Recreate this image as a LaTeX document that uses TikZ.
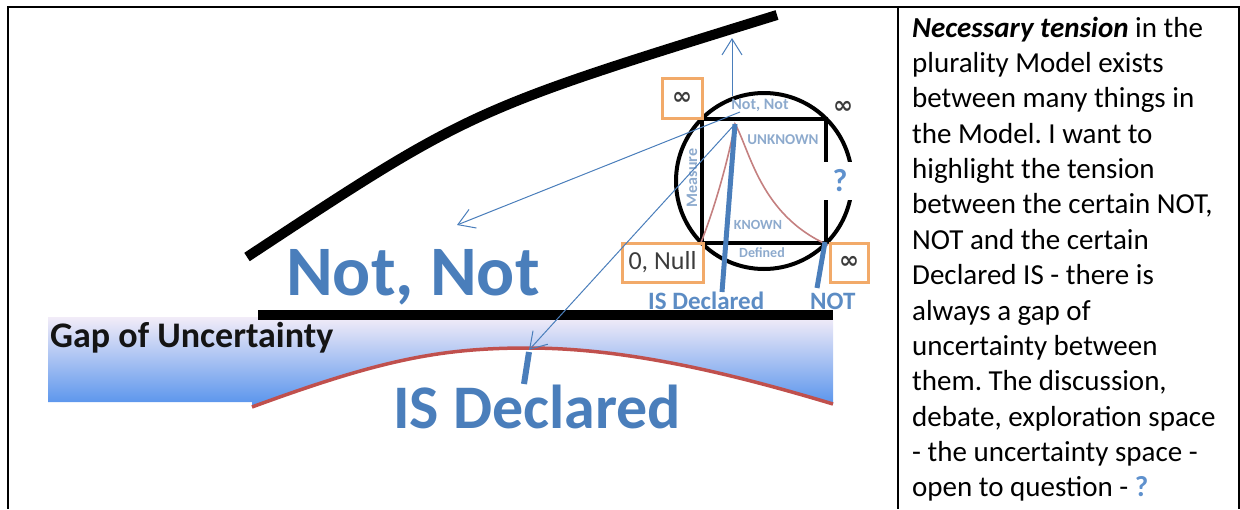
\documentclass[tikz,border=0pt]{standalone}
\usepackage{fontspec}
\setmainfont{Carlito}
\newfontfamily\symfont{DejaVu Sans}
\usetikzlibrary{arrows.meta}
\frenchspacing
\definecolor{accblue}{RGB}{74,126,187}
\definecolor{smallblue}{RGB}{92,140,196}
\definecolor{lightlab}{RGB}{141,170,205}
\definecolor{qblue}{RGB}{95,145,205}
\definecolor{redc}{RGB}{192,80,77}
\definecolor{pinkc}{RGB}{196,128,128}
\definecolor{orangec}{RGB}{242,170,105}
\definecolor{gtop}{RGB}{242,236,248}
\definecolor{gmid}{RGB}{185,212,246}
\definecolor{gbot}{RGB}{85,146,236}
\definecolor{darkt}{RGB}{60,60,60}
\begin{document}
\begin{tikzpicture}[x=1pt,y=-1pt,
  frameline/.style={line width=2pt,black},
  heavy/.style={line width=10pt,black},
  bigtext/.style={anchor=base west,inner sep=0pt,text=accblue,font=\bfseries\fontsize{71}{85}\selectfont},
  smalllab/.style={anchor=base west,inner sep=0pt,text=smallblue,font=\bfseries\fontsize{25}{30}\selectfont},
  obox/.style={draw=orangec,line width=3pt,inner sep=0pt,text=darkt},
  lab/.style={inner sep=0pt,text=lightlab,font=\bfseries\fontsize{15}{18}\selectfont},
  inftext/.style={font=\symfont\bfseries\fontsize{24}{28}\selectfont},
  thinarrow/.style={draw=accblue,line width=1pt,-{Straight Barb[length=16pt,width=20pt]}},
  bodytext/.style={anchor=base west,inner sep=0pt,font=\fontsize{29}{35.4}\selectfont},
]
\useasboundingbox (0,0) rectangle (1240,509);

% table frame
\coordinate (ftl) at (7,7);
\coordinate (ftr) at (1240,7);
\coordinate (fl1) at (7.5,6.2);
\coordinate (fl2) at (7.5,509);
\coordinate (fm1) at (898,6.2);
\coordinate (fm2) at (898,509);
\coordinate (fr1) at (1238.5,6.2);
\coordinate (fr2) at (1238.5,509);
\draw[line width=1.5pt] (ftl) -- (ftr);
\draw[frameline] (fl1) -- (fl2);
\draw[frameline] (fm1) -- (fm2);
\draw[frameline] (fr1) -- (fr2);

% gradient band bounded below by red curve
\coordinate (redL) at (252,407);
\coordinate (redP) at (528,348);
\coordinate (redR) at (833,404);
\shade[top color=gtop,middle color=gmid,bottom color=gbot]
  (48,317) -- (833,317) -- (redR) .. controls (720,370) and (620,348) .. (redP)
  .. controls (440,348) and (380,360) .. (redL) -- (252,402) -- (48,402) -- cycle;
\draw[redc,line width=3.5pt] (redL) .. controls (380,360) and (440,348) .. (redP)
  .. controls (620,348) and (720,370) .. (redR);

% big labels
\node[bigtext] (notnot) at (286,295) {Not, Not};
\node[anchor=base west,inner sep=0pt,text={rgb,255:red,20;green,20;blue,20},
  font=\bfseries\fontsize{36}{43}\selectfont] (gap) at (50,347) {Gap of Uncertainty};
\node[bigtext,font=\bfseries\fontsize{62}{74}\selectfont] (isdecl) at (393,428) {IS Declared};

% small blue labels under circle
\node[smalllab] (isdsmall) at (648,309) {IS Declared};
\node[smalllab] (notsmall) at (810,309) {NOT};

% heavy black lines
\coordinate (curveL) at (247,257);
\coordinate (curveR) at (777,15);
\draw[heavy] (curveL) .. controls (470,110) .. (curveR);
\coordinate (hlL) at (258,315);
\coordinate (hlR) at (833,315);
\draw[heavy] (hlL) -- (hlR);

% tick at red peak
\coordinate (tickA) at (529,352);
\coordinate (tickB) at (524,384);
\draw[accblue,line width=6pt] (tickA) -- (tickB);

% circle and square
\node[circle,draw,line width=4pt,minimum size=176pt,inner sep=0pt] (circ) at (764,181) {};
\node[draw,line width=4pt,minimum size=124pt,inner sep=0pt] (sq) at (764,181) {};

% distribution curve
\coordinate (peak) at (735,124);
\draw[pinkc,line width=1.6pt] (sq.south west) .. controls (718,200) and (730,150) .. (peak)
  .. controls (750,150) and (760,215) .. (sq.south east);

% thick blue lines
\coordinate (isb) at (722,292);
\coordinate (notb) at (817,288);
\coordinate (notc) at (825,242);
\draw[accblue,line width=5pt] (isb) -- (peak);
\draw[accblue,line width=5pt] (notb) -- (notc);

% labels inside circle
\node[lab,font=\bfseries\fontsize{16}{19}\selectfont] (nnsmall) at (760,105) {Not, Not};
\node[lab] (unk) at (783,140) {UNKNOWN};
\node[lab,font=\bfseries\fontsize{16}{19}\selectfont,rotate=90] (meas) at (692,178) {Measure};
\node[lab,font=\bfseries\fontsize{14}{17}\selectfont] (known) at (758,225) {KNOWN};
\node[lab,font=\bfseries\fontsize{14}{17}\selectfont] (defd) at (762,253) {Defined};
\node[fill=white,minimum width=40pt,minimum height=38pt,inner sep=0pt,text=qblue,
  font=\bfseries\fontsize{32}{38}\selectfont] (qm) at (840,181) {?};

% orange boxes
\node[obox,minimum width=40pt,minimum height=40pt,inftext] (inf1) at (682,98) {∞};
\node[obox,minimum width=81pt,minimum height=39pt,font=\fontsize{26}{31}\selectfont] (null) at (662.5,262.5) {0, Null};
\node[obox,minimum width=38pt,minimum height=39pt,inftext] (inf2) at (849,262.5) {∞};
\node[inftext,text=darkt,inner sep=0pt] (inf3) at (843,107) {∞};

% thin arrows
\coordinate (vA) at (732,96);
\coordinate (vB) at (732,38);
\draw[thinarrow] (vA) -- (vB);
\coordinate (aA) at (740,112);
\coordinate (aB) at (457,225);
\draw[thinarrow] (aA) -- (aB);
\coordinate (bB) at (529,350);
\draw[thinarrow] (peak) -- (bB);

% right column text
\foreach \t [count=\i] in {%
  {\textbf{\textit{Necessary tension}} in the},
  {plurality Model exists},
  {between many things in},
  {the Model. I want to},
  {highlight the tension},
  {between the certain NOT,},
  {NOT and the certain},
  {Declared IS - there is},
  {always a gap of},
  {uncertainty between},
  {them. The discussion,},
  {debate, exploration space},
  {- the uncertainty space -},
  {open to question - {\bfseries\color{qblue}?}}}
  \node[bodytext] (txt\i) at (912,{37+(\i-1)*35.38}) {\t};
\end{tikzpicture}
\end{document}
